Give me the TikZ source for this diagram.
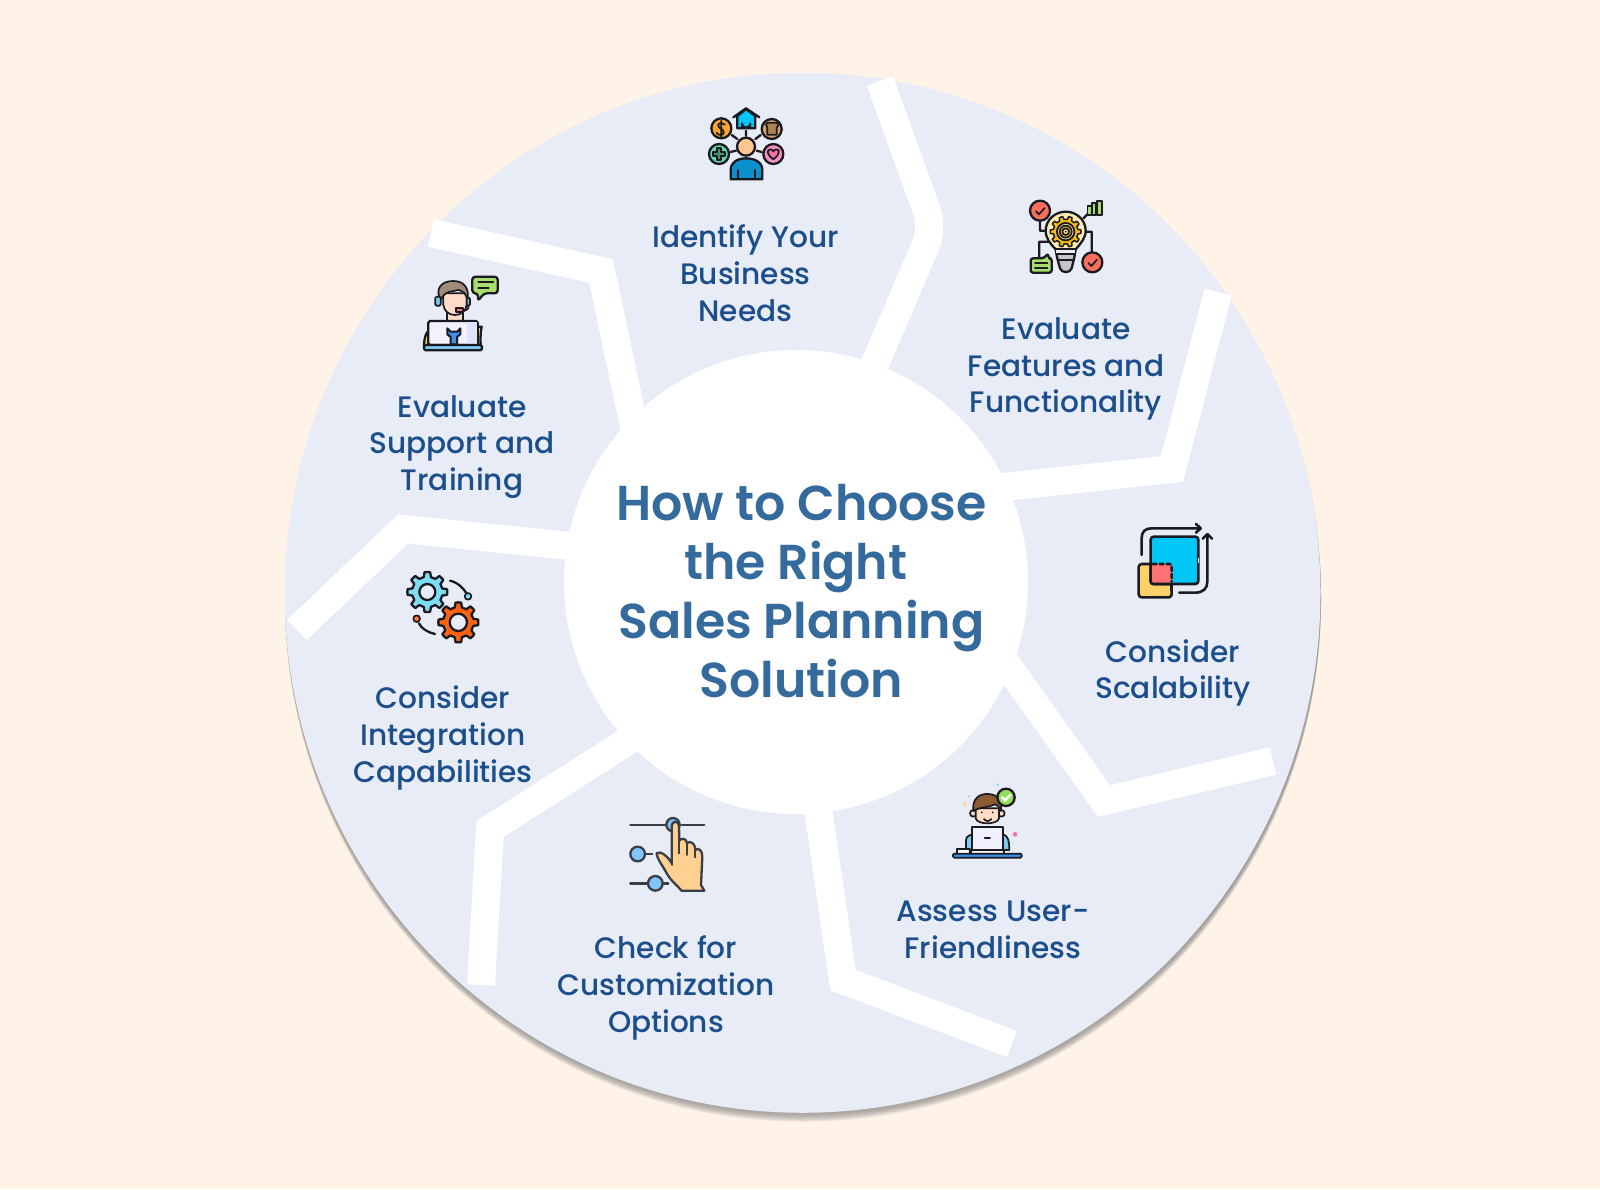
\documentclass[tikz,border=0pt]{standalone}
\usepackage{fontspec}
\setmainfont{Poppins}
\newfontfamily\ttlfont{Poppins SemiBold}
\newfontfamily\lblfont{Poppins Medium}
\definecolor{bgc}{HTML}{FFF3E8}
\definecolor{disc}{HTML}{E8ECF6}
\definecolor{lab}{HTML}{1B4E8B}
\definecolor{ttl}{HTML}{356A9C}
\definecolor{ink}{HTML}{1A1A22}
\definecolor{shade}{HTML}{7F756B}
\definecolor{skin}{HTML}{FFC78F}
\definecolor{pskin}{HTML}{FFDCC8}
\definecolor{sky}{HTML}{00C6F5}
\definecolor{deep}{HTML}{0D8FCB}
\definecolor{amber}{HTML}{FFA62E}
\definecolor{toast}{HTML}{D9A066}
\definecolor{mint}{HTML}{62D6A8}
\definecolor{pink}{HTML}{F78FC8}
\definecolor{coral}{HTML}{FA6E5E}
\definecolor{bulb}{HTML}{FDEBB0}
\definecolor{gold}{HTML}{F6B90F}
\definecolor{leaf}{HTML}{A8DC6C}
\definecolor{sand}{HTML}{FFD166}
\definecolor{rose}{HTML}{FF7272}
\definecolor{ice}{HTML}{7CC9EE}
\definecolor{hair}{HTML}{8C5A33}
\definecolor{slider}{HTML}{82C4F8}
\definecolor{palm}{HTML}{FFD08F}
\definecolor{stroke}{HTML}{3A3F47}
\definecolor{cog}{HTML}{7FDDF2}
\definecolor{cogb}{HTML}{FF6212}
\definecolor{desk}{HTML}{3F8EE8}
\tikzset{
 spoke/.style={draw=white,line width=14pt,line join=miter,miter limit=10},
 lbl/.style={text=lab,align=center,font=\lblfont\fontsize{14.8}{18.4}\selectfont,inner sep=0pt},
 ic/.style={draw=ink,line width=1.15pt,line join=round,line cap=round},
 ict/.style={draw=ink,line width=0.85pt,line join=round,line cap=round},
 zoomed/.style={x=0.16667pt,y=-0.16667pt}
}
\newcommand{\gearshape}[7]{% cx cy Rout Rin hole color teeth
 \begin{scope}[shift={(#1,#2)}]
 \pgfmathsetmacro{\st}{360/#7}
 \draw[ic,fill=#6] (0:#3)
  \foreach \k in {1,...,#7}{
   -- ({(\k-1)*\st+0.18*\st}:#3) -- ({(\k-1)*\st+0.30*\st}:#4) -- ({(\k-1)*\st+0.70*\st}:#4) -- ({(\k-1)*\st+0.82*\st}:#3) -- ({\k*\st}:#3)
  } -- cycle;
 \draw[ic,fill=disc] (0,0) circle (#5);
 \end{scope}}
\begin{document}
\begin{tikzpicture}[x=0.5pt,y=-0.5pt]
\useasboundingbox (0,0) rectangle (1600,1189);
\fill[bgc] (0,0) rectangle (1600,1189);
% shadow
\foreach \d in {9,8,7,6,5,4,3,2}{
 \fill[shade,opacity=.06] (803,592.75+\d) ellipse (518 and 520);}
\fill[disc] (802.5,592.75) ellipse (518 and 520);
% spokes
\draw[spoke,rounded corners=9pt] (880,81) -- (933,228) -- (868,380);
\draw[spoke] (1218,292) -- (1172,469) -- (985,489);
\draw[spoke] (1000,655) -- (1104,801) -- (1273,761);
\draw[spoke] (816,795) -- (843,980) -- (1012,1044);
\draw[spoke] (645,730) -- (490,829) -- (481,985);
\draw[spoke] (590,548) -- (403,529) -- (297,630);
\draw[spoke] (637,440) -- (601,271) -- (431,233);
\fill[white] (796,582) circle (232);
% title
\node[text=ttl,align=center,inner sep=0pt,font=\ttlfont\fontsize{24.5}{29.5}\selectfont] (title) at (801.5,591)
 {How to Choose\\the Right\hspace*{5.6pt}\mbox{}\\Sales Planning\\Solution};
% labels
\node[lbl] (l1) at (745.5,273.5) {Identify Your\\Business\\Needs};
\node[lbl] (l2) at (1066,369) {Evaluate\\Features and\\Functionality};
\node[lbl] (l3) at (1173,673) {Consider\\Scalability};
\node[lbl] (l4) at (993,930) {Assess User-\\Friendliness};
\node[lbl] (l5) at (666,988) {Check for\\Customization\\Options};
\node[lbl] (l6) at (443,738) {Consider\\Integration\\Capabilities};
\node[lbl] (l7) at (462,447) {Evaluate\\Support and\\Training};

% icon 1
\begin{scope}[shift={(680,90)},zoomed]
 \draw[ic] (198,122)--(198,138) (155,135)--(172,147) (242,135)--(226,147) (152,186)--(168,182) (245,186)--(230,182);
 \draw[ic,fill=amber] (124,115) circle (30);
 \draw[ict] (135,104) .. controls (120,92) and (108,104) .. (118,113) .. controls (135,120) and (136,134) .. (122,135) .. controls (116,136) and (112,132) .. (110,128) (124,92)--(124,142);
 \draw[ic,fill=toast] (275,117) circle (30);
 \draw[ict,fill=toast!80!black] (262,134) -- (262,112) .. controls (252,100) and (262,98) .. (270,98) -- (285,98) .. controls (298,98) and (298,108) .. (290,112) -- (290,134) -- cycle;
 \draw[ic,fill=mint] (117,192) circle (30);
 \draw[ict,fill=mint!70!black] (110,175)--(124,175)--(124,185)--(134,185)--(134,199)--(124,199)--(124,209)--(110,209)--(110,199)--(100,199)--(100,185)--(110,185)--cycle;
 \draw[ic,fill=pink] (280,192) circle (30);
 \draw[ict,fill=pink!80!red] (280,208) .. controls (258,192) and (260,178) .. (272,178) .. controls (276,178) and (280,184) .. (280,184) .. controls (280,184) and (284,178) .. (288,178) .. controls (300,178) and (302,192) .. (280,208) -- cycle;
 \draw[ic,fill=sky] (172,78)--(198,57)--(226,78)--(226,115)--(172,115)--cycle;
 \draw[ic] (160,82)--(198,55)--(238,82);
 \draw[ict] (186,115)--(186,100) arc (180:0:12.5) --(211,115);
 \draw[ic,fill=skin] (198,170) circle (27);
 \draw[ic,fill=deep] (152,268)--(152,240) .. controls (152,215) and (175,205) .. (198,205) .. controls (222,205) and (247,215) .. (247,240) -- (247,268) -- cycle;
 \draw[ict] (174,268)--(174,240) (224,268)--(224,240);
\end{scope}

% icon 2
\begin{scope}[shift={(1010,180)},zoomed]
 \draw[ic] (90,122)--(90,152)--(108,152) (120,185)--(88,185)--(88,232) (225,155)--(245,155)--(245,217) (220,115)--(235,100);
 \draw[ic,fill=coral] (90,92) circle (30);
 \draw[ict] (78,94)--(87,103)--(104,84);
 \draw[ic,fill=coral] (247,247) circle (30);
 \draw[ict] (235,249)--(244,258)--(261,239);
 \draw[ic,fill=bulb] (137,208) .. controls (120,190) and (107,175) .. (107,152) .. controls (107,120) and (135,95) .. (167,95) .. controls (200,95) and (227,120) .. (227,152) .. controls (227,175) and (212,190) .. (197,208) -- cycle;
 \draw[ic,fill=gray!45] (137,208)--(197,208)--(193,232)--(185,265) .. controls (180,280) and (155,280) .. (150,265) -- (141,232)--cycle;
 \fill[white!85!gray] (139,210) rectangle (195,222);
 \draw[ict] (139,222)--(195,222) (145,240)--(189,240);
 \begin{scope}
 \tikzset{ic/.append style={line width=.75pt}}
 \gearshape{167}{155}{46}{37}{26}{gold}{10}
 \end{scope}
 \draw[ict,fill=bulb] (167,155) circle (26);
 \draw[ict,fill=gold] (167,155) circle (18);
 \draw[ict,fill=bulb] (167,155) circle (10);
 \fill[ink] (167,155) circle (3);
 \draw[ic,fill=leaf,rounded corners=1.2pt] (62,235) -- (100,235) -- (115,220) -- (115,235) -- (125,235) -- (125,278) -- (62,278) -- cycle;
 \draw[ict] (75,250)--(112,250) (75,264)--(112,264);
 \draw[ict,fill=leaf] (232,78) rectangle (244,105) (246,70) rectangle (258,105) (261,62) rectangle (275,105);
\end{scope}

% icon 3
\begin{scope}[shift={(1120,510)},zoomed]
 \draw[ic,line width=1.3pt] (65,135)--(65,85) .. controls (65,65) and (75,55) .. (95,55) -- (240,55) (228,42)--(242,55)--(228,68);
 \draw[ic,line width=1.3pt] (178,248)--(225,248) .. controls (250,248) and (262,235) .. (262,215) -- (262,75) (248,86)--(262,72)--(276,86);
 \draw[ic,line width=1.3pt,fill=sand,rounded corners=1.5pt] (56,162) rectangle (155,262);
 \draw[ic,line width=1.3pt,fill=sky,rounded corners=1.5pt] (92,80) rectangle (235,222);
 \fill[rose] (93,162) rectangle (155,221);
 \draw[ic,line width=1.3pt] (92,162)--(92,214) .. controls (92,220) and (95,222) .. (100,222)--(155,222);
 \draw[ic,line width=1.3pt,dash pattern=on 2pt off 1.5pt] (98,162)--(148,162) .. controls (153,162) and (155,165) .. (155,170) -- (155,215);
 \draw[ic,line width=1.3pt] (155,222)--(155,240);
 \draw[draw=disc,line width=.8pt] (235,145)--(235,160);
\end{scope}

% icon 4
\begin{scope}[shift={(940,775)},zoomed]
 \fill[cyan!50] (173,29) circle (4);
 \fill[leaf] (87,64) circle (3);
 \fill[sand] (74,88) circle (5);
 \fill[pink!80!red] (225,178) circle (7);
 \fill[sand] (218,205) circle (3);
 \draw[ict,fill=ice] (78,225) -- (78,195) .. controls (78,185) and (88,180) .. (98,178) -- (188,178) .. controls (200,180) and (208,190) .. (208,225) -- cycle;
 \draw[ict,fill=pskin] (100,115) circle (10) (184,115) circle (10);
 \draw[ict,fill=pskin] (107,100) -- (107,130) .. controls (112,150) and (172,150) .. (177,130) -- (177,100) -- cycle;
 \draw[ict,fill=hair] (100,108) .. controls (95,70) and (120,55) .. (145,57) .. controls (175,58) and (190,80) .. (182,108) .. controls (178,95) and (172,90) .. (165,88) .. controls (145,98) and (120,95) .. (100,108) -- cycle;
 \fill[ink] (125,112) circle (3) (158,112) circle (3);
 \draw[ict] (132,132) .. controls (138,140) and (148,140) .. (154,132);
 \draw[ic,fill=leaf!85!green] (198,67) circle (26);
 \draw[draw=white,line width=1.3pt,line cap=round] (186,67)--(195,76)--(211,60);
 \draw[ict,fill=white] (52,238) -- (52,222) -- (90,222) -- (90,238) -- cycle;
 \draw[ict,fill=blue!6!white] (95,155) rectangle (190,225);
 \draw[ict] (134,190)--(150,190);
 \draw[ict,fill=gray!10] (92,225) rectangle (193,236);
 \draw[ict,fill=desk,rounded corners=.6pt] (39,236) rectangle (245,248);
\end{scope}

% icon 5
\begin{scope}[shift={(615,800)},zoomed]
 \tikzset{ic/.append style={draw=stroke},ict/.append style={draw=stroke}}
 \draw[ic] (46,74)--(155,74) (200,74)--(268,74);
 \draw[ic,fill=slider] (174,74) circle (20);
 \draw[ic,fill=slider] (68,162) circle (22);
 \draw[ic] (90,162)--(112,162) (125,158)--(135,158);
 \draw[ic] (46,250)--(98,250) (145,250)--(160,250);
 \draw[ic,fill=slider] (121,250) circle (22);
 \draw[ic,fill=palm] (200,272) .. controls (185,255) and (170,245) .. (155,220) .. controls (145,200) and (125,175) .. (125,160) .. controls (135,150) and (160,170) .. (170,190) -- (170,80) .. controls (172,60) and (190,60) .. (192,80) -- (193,122) .. controls (200,112) and (215,115) .. (216,130) .. controls (222,122) and (240,125) .. (241,150) .. controls (250,142) and (262,150) .. (262,170) -- (258,255) -- (268,272) -- cycle;
 \draw[ict] (193,122)--(193,160) (216,130)--(216,165) (241,150)--(241,172) (170,190)--(170,195);
\end{scope}

% icon 6
\begin{scope}[shift={(395,560)},zoomed]
 \gearshape{97}{96}{60}{46}{24}{cog}{8}
 \gearshape{190}{187}{60}{46}{26}{cogb}{8}
 \draw[ic] (165,62) .. controls (190,68) and (205,85) .. (213,98);
 \draw[ict,fill=cog] (219,109) circle (10);
 \draw[ic] (72,190) .. controls (78,205) and (100,218) .. (120,222);
 \draw[ict,fill=cogb!85!white] (65,176) circle (10);
\end{scope}

% icon 7
\begin{scope}[shift={(410,265)},zoomed]
 \draw[ic,fill=sand] (42,245) .. controls (42,215) and (50,195) .. (68,185) -- (215,185) .. controls (210,205) and (212,230) .. (212,245) -- cycle;
 \draw[ict,fill=pskin] (112,140) rectangle (158,175);
 \draw[ict,fill=pskin] (100,85) -- (100,120) .. controls (105,160) and (165,160) .. (170,120) -- (170,85) -- cycle;
 \draw[ict,fill=gray!65!brown!90] (92,105) .. controls (75,75) and (90,48) .. (130,48) .. controls (170,48) and (178,80) .. (172,105) .. controls (168,85) and (160,78) .. (145,75) .. controls (130,80) and (105,75) .. (92,105) -- cycle;
 \draw[ict,fill=ice,rounded corners=.6pt] (76,95) rectangle (92,122);
 \draw[ict,fill=ice,rounded corners=.6pt] (170,98) rectangle (180,122);
 \draw[ict] (176,122) .. controls (176,135) and (165,138) .. (155,138);
 \draw[ict,fill=rose] (138,130) rectangle (158,140);
 \draw[ic,fill=blue!5!white,rounded corners=.8pt] (55,168) rectangle (203,240);
 \fill[blue!12!white] (170,171) rectangle (201,238);
 \draw[ict,line width=1pt,fill=desk] (112,190) -- (112,208) -- (122,216) -- (122,238) -- (141,238) -- (141,216) -- (151,208) -- (151,190) -- (141,200) -- (122,200) -- cycle;
 \draw[ic,fill=ice,rounded corners=.8pt] (42,240) rectangle (216,256);
 \draw[ic,fill=leaf,rounded corners=1.5pt] (187,35) -- (263,35) -- (263,85) -- (222,85) -- (204,108) -- (204,85) -- (187,85) -- cycle;
 \draw[ict] (205,50)--(250,50) (205,68)--(236,68);
\end{scope}
\end{tikzpicture}
\end{document}
